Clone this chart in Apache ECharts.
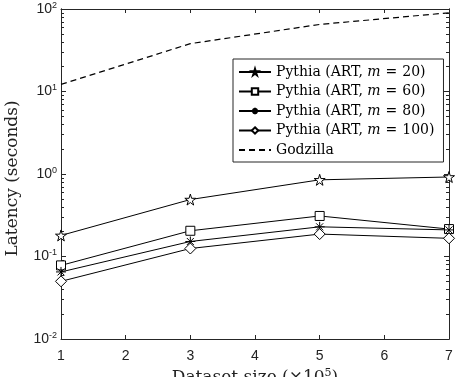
<!DOCTYPE html>
<html>
<head>
<meta charset="utf-8">
<script src="https://cdn.jsdelivr.net/npm/echarts@6/dist/echarts.min.js"></script>
<style>
  html, body { margin: 0; padding: 0; background: #fff; }
  #chart { width: 463px; height: 377px; }
</style>
</head>
<body>
<div id="chart"></div>
<script>
// dataset size (x10^5)
const sizes = [1, 3, 5, 7]
const m20 = [0.18, 0.49, 0.85, 0.92]
const m60 = [0.078, 0.205, 0.31, 0.215]
const m80 = [0.065, 0.152, 0.229, 0.21]
const m100 = [0.05, 0.125, 0.187, 0.166]
const godzilla = [12.2, 38, 65, 90]

const decadeExp = { 0.01: '-2', 0.1: '-1', 1: '0', 10: '1', 100: '2' }
const minorTicks = []
;[0.01, 0.1, 1, 10].forEach(d => {
  for (let k = 2; k <= 9; k++) minorTicks.push(+(d * k).toPrecision(3))
})

const axisColor = '#262626'
const serif = 'DejaVu Serif'
const sans = 'Liberation Sans'

const starPath = 'path://M50,0 L61,35 L98,35 L68,57 L79,91 L50,70 L21,91 L32,57 L2,35 L39,35 Z'
const asteriskPath = 'path://M0,5 L10,5 M5,0 L5,10 M1.5,1.5 L8.5,8.5 M8.5,1.5 L1.5,8.5'

function pts(arr) {
  return sizes.map((x, i) => [x, arr[i]])
}

function pythia(name, data, symbol, size) {
  return {
    name: name,
    type: 'line',
    data: pts(data),
    symbol: symbol,
    symbolSize: size,
    showAllSymbol: true,
    lineStyle: { color: '#000', width: 1 },
    itemStyle: { color: '#fff', borderColor: '#000', borderWidth: 1 },
    emphasis: { disabled: true },
    animation: false
  }
}

const chart = echarts.init(document.getElementById('chart'))

const yBase = {
  type: 'log',
  logBase: 10,
  min: 0.01,
  max: 100,
  axisLine: { show: true, lineStyle: { color: axisColor, width: 1 } },
  splitLine: { show: false },
  minorTick: { show: false }
}

chart.setOption({
  backgroundColor: '#fff',
  grid: { left: 61, right: 14, top: 9, bottom: 38, outerBoundsMode: 'none' },
  legend: {
    orient: 'vertical',
    left: 233,
    top: 59,
    padding: [6, 9, 5, 5],
    itemWidth: 32,
    itemHeight: 8,
    itemGap: 5.5,
    borderColor: axisColor,
    borderWidth: 1,
    backgroundColor: '#fff',
    data: [
      'Pythia (ART, m = 20)',
      'Pythia (ART, m = 60)',
      'Pythia (ART, m = 80)',
      'Pythia (ART, m = 100)',
      { name: 'Godzilla', itemStyle: { color: 'transparent', borderWidth: 0 } }
    ],
    formatter: function(name) {
      if (name.indexOf('m = ') < 0) return '{a|' + name + '}'
      const head = name.split('m = ')[0]
      const tail = name.split('m = ')[1]
      return '{a|' + head + '}{i|m}{e|=}{a|' + tail + '}'
    },
    textStyle: {
      color: '#000',
      rich: {
        a: { fontFamily: serif, fontSize: 14, color: '#000' },
        i: { fontFamily: serif, fontSize: 14, fontStyle: 'italic', color: '#000' },
        e: { fontFamily: serif, fontSize: 14, color: '#000', padding: [0, 5, 0, 5] }
      }
    }
  },
  xAxis: [{
    type: 'value',
    min: 1,
    max: 7,
    interval: 1,
    name: 'Dataset size (×10{s|5})',
    nameLocation: 'middle',
    nameGap: 25,
    nameTextStyle: {
      fontFamily: serif,
      fontSize: 17,
      color: '#222',
      rich: { s: { fontFamily: serif, fontSize: 11, verticalAlign: 'top', padding: [0, 0, 9, 0], color: '#222' } }
    },
    axisLine: { show: true, onZero: false, lineStyle: { color: axisColor, width: 1 } },
    axisTick: { inside: true, length: 4, lineStyle: { color: axisColor } },
    axisLabel: { fontFamily: sans, fontSize: 14, color: '#222', margin: 10 },
    splitLine: { show: false }
  }, {
    type: 'value',
    position: 'top',
    min: 1,
    max: 7,
    interval: 1,
    axisLine: { show: true, onZero: false, lineStyle: { color: axisColor, width: 1 } },
    axisTick: { inside: true, length: 4, lineStyle: { color: axisColor } },
    axisLabel: { show: false },
    splitLine: { show: false }
  }],
  yAxis: [Object.assign({}, yBase, {
    position: 'left',
    name: 'Latency (seconds)',
    nameLocation: 'middle',
    nameGap: 40,
    nameTextStyle: { fontFamily: serif, fontSize: 17, color: '#222', padding: [0, 9, 0, 0] },
    axisTick: { inside: true, length: 5, lineStyle: { color: axisColor } },
    axisLabel: {
      margin: 4,
      formatter: function(v) {
        const e = decadeExp[+v.toPrecision(3)]
        return e === undefined ? '' : '{b|10}{s|' + e + '}'
      },
      rich: {
        b: { fontFamily: sans, fontSize: 14, color: '#222' },
        s: { fontFamily: sans, fontSize: 9, color: '#222', verticalAlign: 'top', padding: [0, 0, 7, 0] }
      }
    }
  }), Object.assign({}, yBase, {
    position: 'right',
    axisTick: { inside: true, length: 5, lineStyle: { color: axisColor } },
    axisLabel: { show: false }
  }), Object.assign({}, yBase, {
    position: 'left',
    axisTick: { inside: true, length: 3, customValues: minorTicks, lineStyle: { color: axisColor } },
    axisLabel: { show: false }
  }), Object.assign({}, yBase, {
    position: 'right',
    axisTick: { inside: true, length: 3, customValues: minorTicks, lineStyle: { color: axisColor } },
    axisLabel: { show: false }
  })],
  series: [
    pythia('Pythia (ART, m = 20)', m20, starPath, 11),
    pythia('Pythia (ART, m = 60)', m60, 'rect', 9),
    pythia('Pythia (ART, m = 80)', m80, asteriskPath, 10),
    pythia('Pythia (ART, m = 100)', m100, 'diamond', 11),
    {
      name: 'Godzilla',
      type: 'line',
      data: pts(godzilla),
      symbol: 'none',
      lineStyle: { color: '#000', width: 1.2, type: [6, 4] },
      itemStyle: { color: '#000' },
      emphasis: { disabled: true },
      animation: false
    }
  ]
})
</script>
</body>
</html>
